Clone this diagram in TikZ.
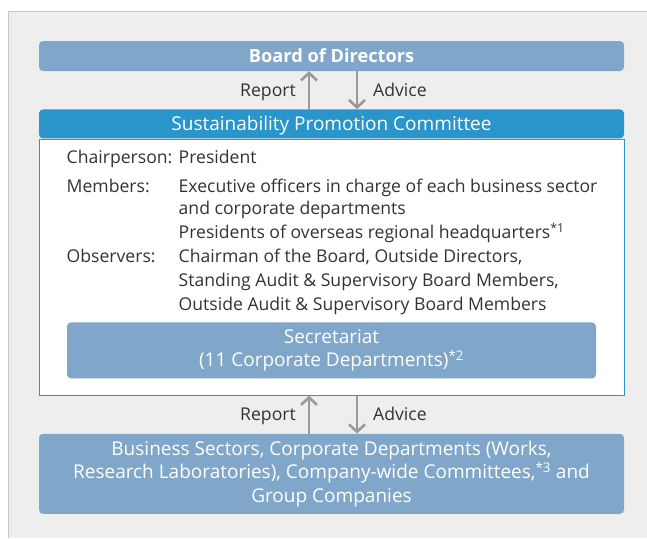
\documentclass[tikz,border=0pt]{standalone}
\usepackage{fontspec}
\setmainfont{Open Sans}
\usetikzlibrary{arrows.meta,calc}
\pgfdeclarelayer{background}
\pgfsetlayers{background,main}
\definecolor{panelgray}{HTML}{EEEEEE}
\definecolor{panelline}{HTML}{C8C8C8}
\definecolor{boxblue}{HTML}{80A7C9}
\definecolor{headblue}{HTML}{2A95CB}
\definecolor{arrowgray}{HTML}{999999}
\definecolor{textgray}{HTML}{333333}
\newcommand{\textsize}{\fontsize{17.6}{23.5}\selectfont}
\newcommand{\boxsize}{\fontsize{19}{23.5}\selectfont}
\tikzstyle{unit}=[fill=boxblue, text=white, align=center, rounded corners=4pt,
  inner sep=0pt, font=\boxsize]
\tikzstyle{wide}=[unit, minimum width=585pt]
\tikzstyle{texto}=[text=textgray, inner sep=0pt, anchor=base west, font=\textsize]
\tikzstyle{flow}=[draw, line width=2.6pt, color=arrowgray,
  -{Straight Barb[length=7.5pt,width=16pt]}]
\newcommand{\role}[3]{%
  \path (body.north west)+(28,-#1) node (r#1) [texto] {#2};
  \path (body.north west)+(140,-#1) node (m#1) [texto] {#3};}
\newcommand{\exchange}[2]{%
  \path [flow] ($(#2.north)+(-22.5,0)$) -- ($(#1.south)+(-22.5,0)$);
  \path [flow] ($(#1.south)+(25.5,0)$) -- ($(#2.north)+(25.5,0)$);
  \path ($(#1.south)+(-35.5,-25)$) node [texto, anchor=base east] {Report};
  \path ($(#1.south)+(41.5,-25)$) node [texto] {Advice};}

\begin{document}
\begin{tikzpicture}[x=1pt,y=1pt]
  \useasboundingbox (0,0) rectangle (647,-538);

  % Panel behind everything
  \fill[panelgray] (8,-11) rectangle (647,-538);
  \draw[panelline, line width=1pt] (8,-538) -- (8,-11) -- (647,-11);

  % Draw diagram elements
  \node (board) [wide, minimum height=30pt, font=\fontsize{18.2}{23.5}\selectfont]
    at (331.5,-56) {\textbf{Board of Directors}};
  \path (board.south)+(0,-38) node (head) [wide, fill=headblue,
    minimum height=29pt, text depth=1pt, anchor=north]
    {Sustainability Promotion Committee};
  \begin{pgfonlayer}{background}
    \fill[headblue] (head.west) rectangle (head.south east);
  \end{pgfonlayer}
  \path (head.south) node (body) [draw=headblue, line width=1pt, fill=white,
    minimum width=585pt, minimum height=256pt, anchor=north] {};

  % Committee members
  \role{24.7}{Chairperson:}{President}
  \role{53.7}{Members:}{Executive officers in charge of each business sector}
  \role{76.3}{}{and corporate departments}
  \role{100.3}{}{Presidents of overseas regional headquarters\textsuperscript{*1}}
  \role{123.7}{Observers:}{Chairman of the Board, Outside Directors,}
  \role{148}{}{Standing Audit \& Supervisory Board Members,}
  \role{172}{}{Outside Audit \& Supervisory Board Members}

  % Secretariat
  \path (body.south)+(0,17) node (secr) [unit, minimum width=529pt,
    minimum height=56pt, anchor=south]
    {Secretariat\\(11 Corporate Departments)\textsuperscript{*2}};

  % Lower level
  \path (body.south)+(0,-38) node (base) [wide, minimum height=80pt, anchor=north]
    {Business Sectors, Corporate Departments (Works,\\
     Research Laboratories), Company-wide Committees,\textsuperscript{*3} and\\
     Group Companies};

  % Draw arrows between elements
  \exchange{board}{head}
  \exchange{body}{base}
\end{tikzpicture}
\end{document}
